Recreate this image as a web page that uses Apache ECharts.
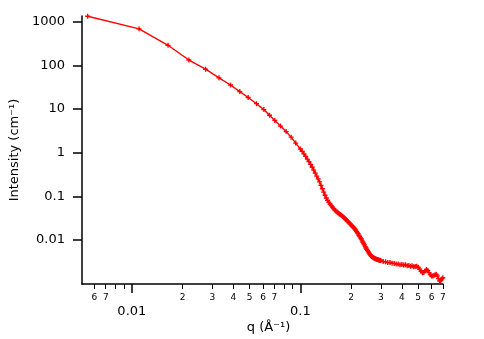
<!DOCTYPE html>
<html>
<head>
<meta charset="utf-8">
<script src="https://cdn.jsdelivr.net/npm/echarts@6/dist/echarts.min.js"></script>
<style>
  body { margin: 0; background: #fff; }
  #sansChart { width: 484px; height: 339px; }
</style>
</head>
<body>
<div id="sansChart"></div>
<script>
// ---------------- data ----------------
// low q, sparse points
var qLow = [0.00547, 0.01104, 0.0164, 0.0218, 0.0274, 0.0329, 0.0385, 0.0437, 0.0490, 0.0549,
    0.0607, 0.0656, 0.0705, 0.0762, 0.0823, 0.0881, 0.0938];
var iLow = [1330, 684, 287, 132, 81.3, 51.7, 35.4, 25.0, 18.3, 13.2,
    9.66, 7.19, 5.46, 4.06, 3.03, 2.26, 1.65];
// mid q, dense points
var qMid = [0.1000, 0.1025, 0.1050, 0.1075, 0.1100, 0.1125, 0.1150, 0.1175, 0.1200, 0.1225,
    0.1250, 0.1275, 0.1300, 0.1325, 0.1350, 0.1375, 0.1400, 0.1425, 0.1450, 0.1475,
    0.1500, 0.1525, 0.1550, 0.1575, 0.1600, 0.1625, 0.1650, 0.1675, 0.1700, 0.1725,
    0.1750, 0.1775, 0.1800, 0.1825, 0.1850, 0.1875, 0.1900, 0.1925, 0.1950, 0.1975,
    0.2000, 0.2025, 0.2050, 0.2075, 0.2100, 0.2125, 0.2150, 0.2175, 0.2200, 0.2225,
    0.2250, 0.2275, 0.2300, 0.2325, 0.2350, 0.2375, 0.2400, 0.2425, 0.2450, 0.2475,
    0.2500, 0.2525, 0.2550, 0.2575, 0.2600, 0.2625, 0.2650, 0.2675, 0.2700, 0.2725,
    0.2750, 0.2775, 0.2800, 0.2825, 0.2850, 0.2875, 0.2900, 0.2925, 0.2950, 0.2975];
var iMid = [1.21, 1.07, 0.940, 0.820, 0.712, 0.622, 0.537, 0.462, 0.396, 0.340,
    0.290, 0.250, 0.213, 0.177, 0.149, 0.125, 0.1055, 0.0915, 0.0805, 0.0728,
    0.0665, 0.0611, 0.0567, 0.0522, 0.0485, 0.0459, 0.0438, 0.0413, 0.0395, 0.0383,
    0.0369, 0.0349, 0.0333, 0.0320, 0.0304, 0.0286, 0.0271, 0.0260, 0.0247, 0.0232,
    0.0221, 0.0209, 0.0199, 0.0191, 0.0182, 0.0169, 0.0158, 0.0148, 0.0140, 0.0128,
    0.0119, 0.0112, 0.0105, 0.00955, 0.00885, 0.00820, 0.00768, 0.00702, 0.00655, 0.00612,
    0.00578, 0.00538, 0.00505, 0.00478, 0.00456, 0.00437, 0.00420, 0.00405, 0.00397, 0.00386,
    0.00380, 0.00373, 0.00371, 0.00362, 0.00356, 0.00355, 0.00351, 0.00343, 0.00340, 0.00341];
// high q, plateau and wiggles
var qHigh = [0.30, 0.31, 0.32, 0.33, 0.34, 0.35, 0.36, 0.37, 0.38, 0.39,
    0.40, 0.41, 0.42, 0.43, 0.44, 0.45, 0.46, 0.47, 0.48, 0.49,
    0.50, 0.51, 0.52, 0.53, 0.54, 0.55, 0.56, 0.57, 0.58, 0.59,
    0.60, 0.61, 0.62, 0.63, 0.64, 0.65, 0.66, 0.67, 0.68, 0.69, 0.70];
var iHigh = [0.00338, 0.00320, 0.00316, 0.00303, 0.00306, 0.00293, 0.00290, 0.00283, 0.00280, 0.00271,
    0.00275, 0.00266, 0.00269, 0.00258, 0.00260, 0.00250, 0.00255, 0.00242, 0.00248, 0.00250,
    0.00236, 0.00215, 0.00192, 0.00178, 0.00180, 0.00198, 0.00210, 0.00200, 0.00178, 0.00160,
    0.00150, 0.00149, 0.00153, 0.00160, 0.00163, 0.00150, 0.00130, 0.00116, 0.00118, 0.00128, 0.00136];

var yTicks = [0.01, 0.1, 1, 10, 100, 1000];
var xMajorTicks = [0.01, 0.1];
var xMinorTicks = [0.006, 0.007, 0.008, 0.009,
    0.02, 0.03, 0.04, 0.05, 0.06, 0.07, 0.08, 0.09,
    0.2, 0.3, 0.4, 0.5, 0.6, 0.7];
var xMinorLabels = [0.006, 0.007, 0.02, 0.03, 0.04, 0.05, 0.06, 0.07,
    0.2, 0.3, 0.4, 0.5, 0.6, 0.7];
var qRange = [0.00506, 0.7017];
var iRange = [0.00098, 1345];

// ---------------- chart ----------------
var chartDom = document.getElementById("sansChart");
var sansChart = echarts.init(chartDom, null, { renderer: 'canvas' });
var lg = function (v) { return Math.log10(v); };
var font = 'DejaVu Sans';
var plusSymbol = 'path://M2.2,0H3.8V2.2H6V3.8H3.8V6H2.2V3.8H0V2.2H2.2Z';

var qAll = qLow.concat(qMid, qHigh);
var iAll = iLow.concat(iMid, iHigh);

var option = {
    animation: false,
    backgroundColor: '#fff',
    grid: { left: 81, right: 41, top: 16, bottom: 51 },
    xAxis: [{
        // data axis + minor ticks
        type: 'value',
        position: 'bottom',
        min: lg(qRange[0]),
        max: lg(qRange[1]),
        name: 'q (Å⁻¹)',
        nameLocation: 'middle',
        nameGap: 37,
        nameTextStyle: { fontFamily: font, fontSize: 13, color: '#000', padding: [0, 0, 0, 12] },
        axisLine: { show: true, onZero: false, lineStyle: { color: '#000', width: 1.5 } },
        axisTick: { show: true, length: 5, customValues: xMinorTicks.map(lg), lineStyle: { color: '#000', width: 1 } },
        axisLabel: {
            customValues: xMinorLabels.map(lg),
            margin: 9,
            fontFamily: font,
            fontSize: 9,
            color: '#000',
            formatter: function (v) {
                var p = Math.floor(v + 1e-9);
                return String(Math.round(Math.pow(10, v - p)));
            }
        },
        splitLine: { show: false }
    }, {
        // major ticks
        type: 'value',
        position: 'bottom',
        min: lg(qRange[0]),
        max: lg(qRange[1]),
        axisLine: { show: false, onZero: false },
        axisTick: { show: true, length: 9, customValues: xMajorTicks.map(lg), lineStyle: { color: '#000', width: 1.5 } },
        axisLabel: {
            customValues: xMajorTicks.map(lg),
            margin: 21,
            fontFamily: font,
            fontSize: 13,
            color: '#000',
            formatter: function (v) {
                var p = Math.round(v);
                return Math.pow(10, p).toFixed(-p);
            }
        },
        splitLine: { show: false }
    }],
    yAxis: {
        type: 'value',
        min: lg(iRange[0]),
        max: lg(iRange[1]),
        name: 'Intensity (cm⁻¹)',
        nameLocation: 'middle',
        nameGap: 59,
        nameTextStyle: { fontFamily: font, fontSize: 13, color: '#000' },
        axisLine: { show: true, onZero: false, lineStyle: { color: '#000', width: 1.5 } },
        axisTick: { show: true, length: 9, customValues: yTicks.map(lg), lineStyle: { color: '#000', width: 1.5 } },
        axisLabel: {
            customValues: yTicks.map(lg),
            margin: 17,
            fontFamily: font,
            fontSize: 13,
            color: '#000',
            formatter: function (v) {
                var p = Math.round(v);
                return p >= 0 ? String(Math.pow(10, p)) : Math.pow(10, p).toFixed(-p);
            }
        },
        splitLine: { show: false }
    },
    series: [{
        name: 'Intensity',
        type: 'line',
        xAxisIndex: 0,
        yAxisIndex: 0,
        data: qAll.map(function (q, i) { return [lg(q), lg(iAll[i])]; }),
        showAllSymbol: true,
        symbol: plusSymbol,
        symbolSize: 5,
        lineStyle: { color: '#f00', width: 1.4 },
        itemStyle: { color: '#f00' },
        clip: false
    }]
};

sansChart.setOption(option, true);
</script>
</body>
</html>
